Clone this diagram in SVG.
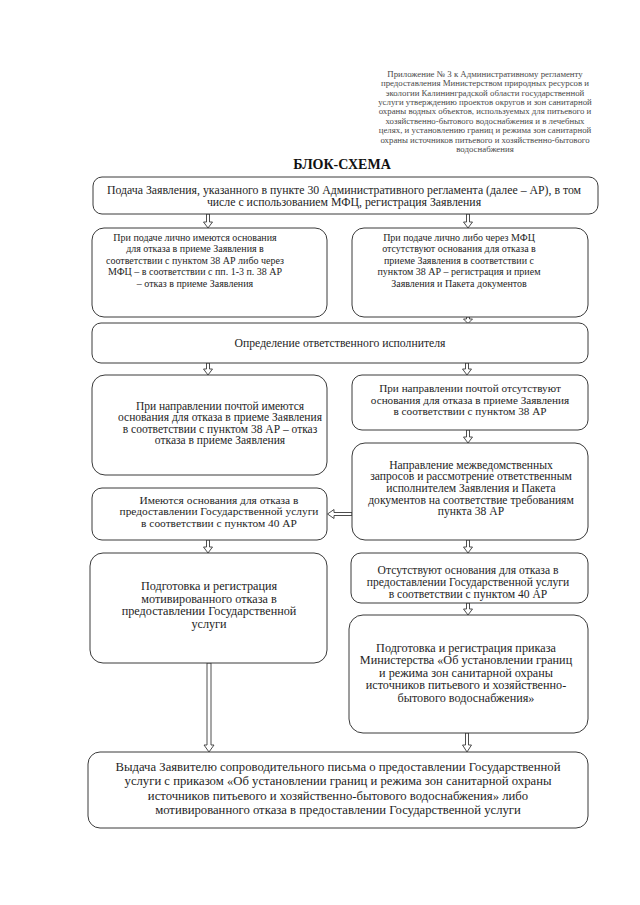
<svg xmlns="http://www.w3.org/2000/svg" width="640" height="905" viewBox="0 0 640 905">
<style>
  .bg { fill: #ffffff; }
  .box { fill: #ffffff; stroke: #3a3a3a; stroke-width: 1; }
  .t { font-family: "Liberation Serif", "Times New Roman", serif; fill: #1e1e1e; text-anchor: middle; }
  .hdr { font-family: "Liberation Serif", "Times New Roman", serif; fill: #4a4a4a; text-anchor: middle; font-size: 8.8px; }
  .title { font-family: "Liberation Serif", "Times New Roman", serif; fill: #111; text-anchor: middle; font-size: 14px; font-weight: bold; }
  .arr { fill: #ffffff; stroke: #3a3a3a; stroke-width: 0.9; stroke-linejoin: miter; }
</style>
<rect class="bg" x="0" y="0" width="640" height="905"/>

<g id="header">
  <text class="hdr" x="485" y="77">Приложение № 3 к Административному регламенту</text>
  <text class="hdr" x="485" y="86.4">предоставления Министерством природных ресурсов и</text>
  <text class="hdr" x="485" y="95.7">экологии Калининградской области государственной</text>
  <text class="hdr" x="485" y="105">услуги утверждению проектов округов и зон санитарной</text>
  <text class="hdr" x="485" y="114.4">охраны водных объектов, используемых для питьевого и</text>
  <text class="hdr" x="485" y="123.8">хозяйственно-бытового водоснабжения и в лечебных</text>
  <text class="hdr" x="485" y="133.1">целях, и установлению границ и режима зон санитарной</text>
  <text class="hdr" x="485" y="142.5">охраны источников питьевого и хозяйственно-бытового</text>
  <text class="hdr" x="485" y="151.8">водоснабжения</text>
</g>

<g id="title">
  <text class="title" x="342" y="169">БЛОК-СХЕМА</text>
</g>

<g id="connectors">
  <path class="arr" d="M206.5,214 V222 H203.5 L208,228 L212.5,222 H209.5 V214 Z"/>
  <path class="arr" d="M466.5,214 V222 H463.5 L468,228 L472.5,222 H469.5 V214 Z"/>
  <path class="arr" d="M466.5,317 V319 H463.5 L468,323.5 L472.5,319 H469.5 V317 Z"/>
  <path class="arr" d="M206.5,363 V369 H203.5 L208,375 L212.5,369 H209.5 V363 Z"/>
  <path class="arr" d="M465.5,363 V369 H462.5 L467,375 L471.5,369 H468.5 V363 Z"/>
  <path class="arr" d="M466.5,430 V437 H463.5 L468,443 L472.5,437 H469.5 V430 Z"/>
  <path class="arr" d="M352,512.5 H334 V509.5 L327.5,514 L334,518.5 V515.5 H352 Z"/>
  <path class="arr" d="M206.5,540 V547 H203.5 L208,553 L212.5,547 H209.5 V540 Z"/>
  <path class="arr" d="M466.5,540 V547 H463.5 L468,553 L472.5,547 H469.5 V540 Z"/>
  <path class="arr" d="M466.5,603 V609 H463.5 L468,615 L472.5,609 H469.5 V603 Z"/>
  <path class="arr" d="M207,663 V745 H204 L209,752 L214,745 H211 V663 Z"/>
  <path class="arr" d="M465.5,733 V745 H462.5 L467,752 L471.5,745 H468.5 V733 Z"/>
</g>

<g id="n1">
  <rect class="box" x="93" y="177" width="505" height="37" rx="9"/>
  <text class="t" font-size="11.8" x="344" y="193.5">Подача Заявления, указанного в пункте 30 Административного регламента (далее – АР), в том</text>
  <text class="t" font-size="11.8" x="344" y="206">числе с использованием МФЦ, регистрация Заявления</text>
</g>

<g id="n2">
  <rect class="box" x="92" y="228" width="235" height="89" rx="12"/>
  <text class="t" font-size="10" x="195" y="240.5">При подаче лично имеются основания</text>
  <text class="t" font-size="10" x="195" y="252">для отказа в приеме Заявления в</text>
  <text class="t" font-size="10" x="195" y="263.5">соответствии с пунктом 38 АР либо через</text>
  <text class="t" font-size="10" x="195" y="275">МФЦ – в соответствии с пп. 1-3 п. 38 АР</text>
  <text class="t" font-size="10" x="195" y="286.5">– отказ в приеме Заявления</text>
</g>

<g id="n3">
  <rect class="box" x="352" y="228" width="236" height="89" rx="12"/>
  <text class="t" font-size="10" x="459" y="240.5">При подаче лично либо через МФЦ</text>
  <text class="t" font-size="10" x="459" y="252">отсутствуют основания для отказа в</text>
  <text class="t" font-size="10" x="459" y="263.5">приеме Заявления в соответствии с</text>
  <text class="t" font-size="10" x="459" y="275">пунктом 38 АР – регистрация и прием</text>
  <text class="t" font-size="10" x="459" y="286.5">Заявления и Пакета документов</text>
</g>

<g id="n4">
  <rect class="box" x="92" y="323" width="496" height="40" rx="9"/>
  <text class="t" font-size="11.7" x="340" y="347">Определение ответственного исполнителя</text>
</g>

<g id="n5">
  <rect class="box" x="92" y="375" width="235" height="100" rx="13"/>
  <text class="t" font-size="11.5" x="220" y="409.5">При направлении почтой имеются</text>
  <text class="t" font-size="11.5" x="220" y="421">основания для отказа в приеме Заявления</text>
  <text class="t" font-size="11.5" x="220" y="432.5">в соответствии с пунктом 38 АР – отказ</text>
  <text class="t" font-size="11.5" x="220" y="444">отказа в приеме Заявления</text>
</g>

<g id="n6">
  <rect class="box" x="352" y="375" width="236" height="55" rx="10"/>
  <text class="t" font-size="11.2" x="470" y="392">При направлении почтой отсутствуют</text>
  <text class="t" font-size="11.2" x="470" y="403.5">основания для отказа в приеме Заявления</text>
  <text class="t" font-size="11.2" x="470" y="415">в соответствии с пунктом 38 АР</text>
</g>

<g id="n7">
  <rect class="box" x="352" y="443" width="236" height="97" rx="13"/>
  <text class="t" font-size="11.6" x="471" y="468.6">Направление межведомственных</text>
  <text class="t" font-size="11.6" x="471" y="480.3">запросов и рассмотрение ответственным</text>
  <text class="t" font-size="11.6" x="471" y="492">исполнителем Заявления и Пакета</text>
  <text class="t" font-size="11.6" x="471" y="503.7">документов на соответствие требованиям</text>
  <text class="t" font-size="11.6" x="471" y="515.4">пункта 38 АР</text>
</g>

<g id="n8">
  <rect class="box" x="92" y="488" width="235" height="52" rx="10"/>
  <text class="t" font-size="11.4" x="219" y="503.5">Имеются основания для отказа в</text>
  <text class="t" font-size="11.4" x="219" y="515.2">предоставлении Государственной услуги</text>
  <text class="t" font-size="11.4" x="219" y="526.9">в соответствии с пунктом 40 АР</text>
</g>

<g id="n9">
  <rect class="box" x="90" y="553" width="237" height="110" rx="13"/>
  <text class="t" font-size="12.2" x="209" y="590">Подготовка и регистрация</text>
  <text class="t" font-size="12.2" x="209" y="602.5">мотивированного отказа в</text>
  <text class="t" font-size="12.2" x="209" y="615">предоставлении Государственной</text>
  <text class="t" font-size="12.2" x="209" y="627.5">услуги</text>
</g>

<g id="n10">
  <rect class="box" x="351" y="553" width="237" height="50" rx="10"/>
  <text class="t" font-size="11.6" x="468" y="573.6">Отсутствуют основания для отказа в</text>
  <text class="t" font-size="11.6" x="468" y="585.8">предоставлении Государственной услуги</text>
  <text class="t" font-size="11.6" x="468" y="598">в соответствии с пунктом 40 АР</text>
</g>

<g id="n11">
  <rect class="box" x="349" y="615" width="239" height="118" rx="14"/>
  <text class="t" font-size="12.2" x="466" y="651.5">Подготовка и регистрация приказа</text>
  <text class="t" font-size="12.2" x="466" y="664">Министерства «Об установлении границ</text>
  <text class="t" font-size="12.2" x="466" y="676.5">и режима зон санитарной охраны</text>
  <text class="t" font-size="12.2" x="466" y="689">источников питьевого и хозяйственно-</text>
  <text class="t" font-size="12.2" x="466" y="701.5">бытового водоснабжения»</text>
</g>

<g id="n12">
  <rect class="box" x="88" y="752" width="500" height="76" rx="12"/>
  <text class="t" font-size="12.7" x="338" y="771">Выдача Заявителю сопроводительного письма о предоставлении Государственной</text>
  <text class="t" font-size="12.7" x="338" y="785">услуги с приказом «Об установлении границ и режима зон санитарной охраны</text>
  <text class="t" font-size="12.7" x="338" y="799.5">источников питьевого и хозяйственно-бытового водоснабжения» либо</text>
  <text class="t" font-size="12.7" x="338" y="814">мотивированного отказа в предоставлении Государственной услуги</text>
</g>
</svg>
